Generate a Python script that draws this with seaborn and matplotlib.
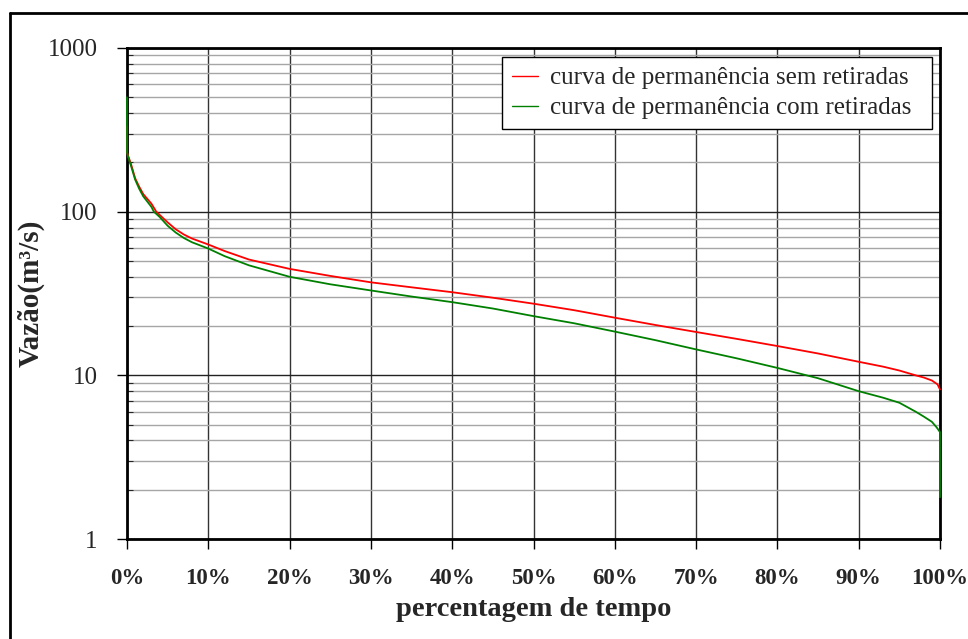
import numpy as np
import pandas as pd
import matplotlib
matplotlib.use("Agg")
import matplotlib.pyplot as plt
import seaborn as sns
from matplotlib.ticker import LogLocator, FixedLocator, NullFormatter
from matplotlib.lines import Line2D

# curva de permanência sem retiradas (red)
pct_sem = [0, 0, 0.2, 0.5, 1, 1.5, 2, 3, 3.6, 5, 6, 7, 8, 10, 12, 15, 20, 25,
           30, 35, 40, 45, 50, 55, 60, 65, 70, 75, 80, 85, 90, 93, 95, 97, 98,
           99, 99.7, 100]
q_sem = [330, 230, 215, 195, 160, 142, 128, 112, 100, 86, 78, 72.5, 68.5, 63,
         57.5, 51, 44.7, 40.5, 37, 34.5, 32.2, 29.8, 27.4, 25, 22.5, 20.3,
         18.4, 16.7, 15.1, 13.6, 12.1, 11.3, 10.7, 10.0, 9.7, 9.3, 8.8, 8.2]

# curva de permanência com retiradas (green)
pct_com = [0, 0, 0.15, 0.5, 1, 1.5, 2, 3, 3.3, 4, 5, 6, 7, 8, 10, 12, 15, 20,
           25, 30, 35, 40, 45, 50, 55, 60, 65, 70, 75, 80, 85, 90, 93, 95, 97,
           98, 99, 99.6, 100, 100]
q_com = [500, 230, 215, 190, 157, 138, 124, 107, 100, 93, 82, 74.5, 69, 65,
         59.5, 53.5, 47, 40, 36, 33, 30.3, 28, 25.6, 23, 20.8, 18.5, 16.4,
         14.4, 12.7, 11.1, 9.6, 8.0, 7.3, 6.8, 6.0, 5.6, 5.2, 4.8, 4.5, 1.8]

x_ticks = [0, 10, 20, 30, 40, 50, 60, 70, 80, 90, 100]
x_labels = ["0%", "10%", "20%", "30%", "40%", "50%", "60%", "70%", "80%", "90%", "100%"]
y_ticks = [1, 10, 100, 1000]
y_labels = ["1", "10", "100", "1000"]

sns.set_style("white")
plt.rcParams['font.family'] = ['Liberation Serif', 'DejaVu Serif']

df_sem = pd.DataFrame({'pct': pct_sem, 'q': q_sem})
df_com = pd.DataFrame({'pct': pct_com, 'q': q_com})

fig = plt.figure(figsize=(9.68, 6.39), dpi=100)
ax = fig.add_axes([127 / 968, 100 / 639, 813 / 968, 491 / 639])

sns.lineplot(data=df_sem, x='pct', y='q', ax=ax, color='#ff0000', lw=1.3,
             sort=False, estimator=None, zorder=4, clip_on=False,
             label='curva de permanência sem retiradas')
sns.lineplot(data=df_com, x='pct', y='q', ax=ax, color='#008000', lw=1.3,
             sort=False, estimator=None, zorder=4, clip_on=False,
             label='curva de permanência com retiradas')

ax.set_yscale('log')
ax.set_xlim(0, 100)
ax.set_ylim(1, 1000)

ax.xaxis.set_major_locator(FixedLocator(x_ticks))
ax.set_xticklabels(x_labels, fontsize=16.5, fontweight='bold')
ax.yaxis.set_major_locator(FixedLocator(y_ticks))
ax.set_yticklabels(y_labels, fontsize=18)
ax.yaxis.set_minor_locator(LogLocator(base=10, subs=np.arange(2, 10)))
ax.yaxis.set_minor_formatter(NullFormatter())

ax.grid(which='major', axis='x', color='#333333', lw=1.0)
ax.grid(which='major', axis='y', color='#222222', lw=1.0)
ax.grid(which='minor', axis='y', color='#a6a6a6', lw=1.0)
ax.set_axisbelow(True)

ax.tick_params(axis='both', which='major', direction='out', length=7, width=1,
               color='black', pad=14, left=True, bottom=True)
ax.tick_params(axis='y', which='minor', direction='in', length=4, width=0.8,
               left=True)

for s in ax.spines.values():
    s.set_color('black')
    s.set_linewidth(2)
    s.set_zorder(3)

ax.set_xlabel('percentagem de tempo', fontsize=20.5, fontweight='bold', labelpad=6)
ax.set_ylabel('Vazão(m³/s)', fontsize=21, fontweight='bold', labelpad=2)

leg = ax.legend(loc='upper left', bbox_to_anchor=(0.4613, 0, 0.5289, 0.9817),
                mode='expand', fontsize=18, frameon=True, fancybox=False,
                framealpha=1, handlelength=1.05, handletextpad=0.45,
                borderpad=0.4, labelspacing=0.3, borderaxespad=0)
leg.get_frame().set_edgecolor('black')
leg.get_frame().set_linewidth(1.0)
leg.set_zorder(5)
for h in leg.get_lines():
    h.set_linewidth(1.0)

# outer chart frame (top and left edges visible)
fig.add_artist(Line2D([10 / 968, 1.0], [1 - 13 / 639, 1 - 13 / 639],
                      transform=fig.transFigure, color='black', lw=2))
fig.add_artist(Line2D([10 / 968, 10 / 968], [0.0, 1 - 13 / 639],
                      transform=fig.transFigure, color='black', lw=2))

fig.savefig('out.png', dpi=100, facecolor='white')
